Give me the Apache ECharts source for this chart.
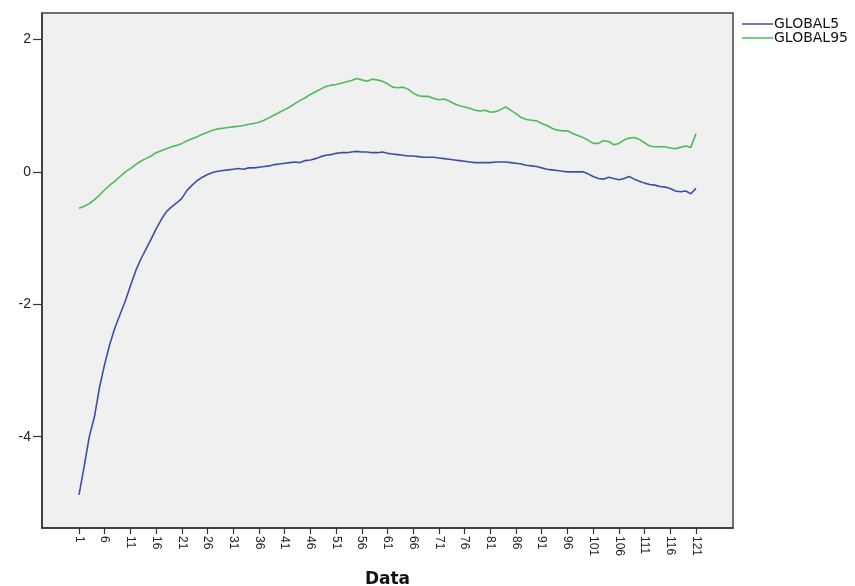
<!DOCTYPE html>
<html>
<head>
<meta charset="utf-8">
<script src="https://cdn.jsdelivr.net/npm/echarts@6/dist/echarts.min.js"></script>
<style>html,body{margin:0;padding:0;background:#fff}#c{width:855px;height:586px}</style>
</head>
<body>
<div id="c"></div>
<script>
// Case numbers 1..121 (x categories)
const caseCount = 121;
const xTickLabels = [1,6,11,16,21,26,31,36,41,46,51,56,61,66,71,76,81,86,91,96,101,106,111,116,121];
const yTickLabels = [-4,-2,0,2];

const global5 = [
-4.88,-4.45,-4.00,-3.70,-3.25,-2.90,-2.60,-2.35,-2.15,-1.95,
-1.72,-1.50,-1.32,-1.17,-1.02,-0.86,-0.72,-0.60,-0.53,-0.47,
-0.40,-0.28,-0.20,-0.13,-0.08,-0.04,-0.01,0.01,0.02,0.03,
0.04,0.05,0.04,0.06,0.06,0.07,0.08,0.09,0.11,0.12,
0.13,0.14,0.15,0.14,0.17,0.18,0.20,0.23,0.25,0.26,
0.28,0.29,0.29,0.30,0.31,0.30,0.30,0.29,0.29,0.30,
0.28,0.27,0.26,0.25,0.24,0.24,0.23,0.22,0.22,0.22,
0.21,0.20,0.19,0.18,0.17,0.16,0.15,0.14,0.14,0.14,
0.14,0.15,0.15,0.15,0.14,0.13,0.12,0.10,0.09,0.08,
0.06,0.04,0.03,0.02,0.01,0.00,0.00,0.00,0.00,-0.03,
-0.07,-0.10,-0.11,-0.08,-0.10,-0.12,-0.10,-0.07,-0.11,-0.14,
-0.17,-0.19,-0.20,-0.22,-0.23,-0.25,-0.29,-0.30,-0.29,-0.33,
-0.25];

const global95 = [
-0.55,-0.52,-0.48,-0.42,-0.35,-0.27,-0.20,-0.14,-0.07,0.00,
0.05,0.11,0.16,0.20,0.24,0.29,0.32,0.35,0.38,0.40,
0.43,0.47,0.50,0.53,0.57,0.60,0.63,0.65,0.66,0.67,
0.68,0.69,0.70,0.72,0.73,0.75,0.78,0.82,0.86,0.90,
0.94,0.98,1.03,1.08,1.12,1.17,1.21,1.25,1.29,1.31,
1.32,1.34,1.36,1.38,1.41,1.39,1.37,1.40,1.39,1.37,
1.33,1.28,1.27,1.28,1.25,1.19,1.15,1.14,1.14,1.11,
1.09,1.10,1.07,1.03,1.00,0.98,0.96,0.93,0.92,0.93,
0.90,0.91,0.94,0.98,0.93,0.88,0.82,0.79,0.78,0.77,
0.73,0.70,0.66,0.63,0.62,0.62,0.58,0.55,0.52,0.48,
0.43,0.43,0.47,0.46,0.41,0.43,0.48,0.51,0.52,0.49,
0.44,0.39,0.38,0.38,0.38,0.36,0.35,0.37,0.39,0.37,
0.58];

const pair = arr => arr.map((v, i) => [i + 1, v]);

const chart = echarts.init(document.getElementById('c'), null, {renderer: 'canvas'});
chart.setOption({
  animation: false,
  backgroundColor: '#ffffff',
  grid: {
    left: 42, top: 13, width: 691, height: 515,
    outerBoundsMode: 'none', containLabel: false,
    show: true, backgroundColor: '#f0f0f0', borderColor: '#444', borderWidth: 1.5
  },
  legend: {
    orient: 'vertical', left: 737, top: 12,
    icon: 'rect', itemWidth: 31, itemHeight: 1.5, itemGap: 0,
    textStyle: {fontFamily: 'DejaVu Sans', fontSize: 14, color: '#111', lineHeight: 13, padding: [0, 0, 0, -4]},
    data: ['GLOBAL5', 'GLOBAL95']
  },
  xAxis: {
    type: 'value', min: -6.2, max: 128.2,
    name: 'Data', nameLocation: 'middle', nameGap: 43,
    nameTextStyle: {fontFamily: 'DejaVu Sans', fontWeight: 'bold', fontSize: 17, color: '#111'},
    axisLine: {show: true, onZero: false, lineStyle: {color: '#333', width: 1.5}},
    axisTick: {show: true, length: 6, customValues: xTickLabels, lineStyle: {color: '#333', width: 1.2}},
    axisLabel: {customValues: xTickLabels, rotate: -90, margin: 8,
      fontFamily: 'Liberation Sans', fontSize: 12, color: '#222'},
    splitLine: {show: false}
  },
  yAxis: {
    type: 'value', min: -5.38, max: 2.4,
    axisLine: {show: true, onZero: false, lineStyle: {color: '#333', width: 1.5}},
    axisTick: {show: true, length: 9, customValues: yTickLabels, lineStyle: {color: '#333', width: 1.2}},
    axisLabel: {customValues: yTickLabels, margin: 11,
      fontFamily: 'Liberation Sans', fontSize: 14, color: '#222'},
    splitLine: {show: false}
  },
  series: [
    {name: 'GLOBAL5', type: 'line', data: pair(global5), symbol: 'none',
     lineStyle: {color: '#3e4fa3', width: 1.6}, itemStyle: {color: '#3e4fa3'}},
    {name: 'GLOBAL95', type: 'line', data: pair(global95), symbol: 'none',
     lineStyle: {color: '#4cbb5c', width: 1.6}, itemStyle: {color: '#4cbb5c'}}
  ]
});
</script>
</body>
</html>
